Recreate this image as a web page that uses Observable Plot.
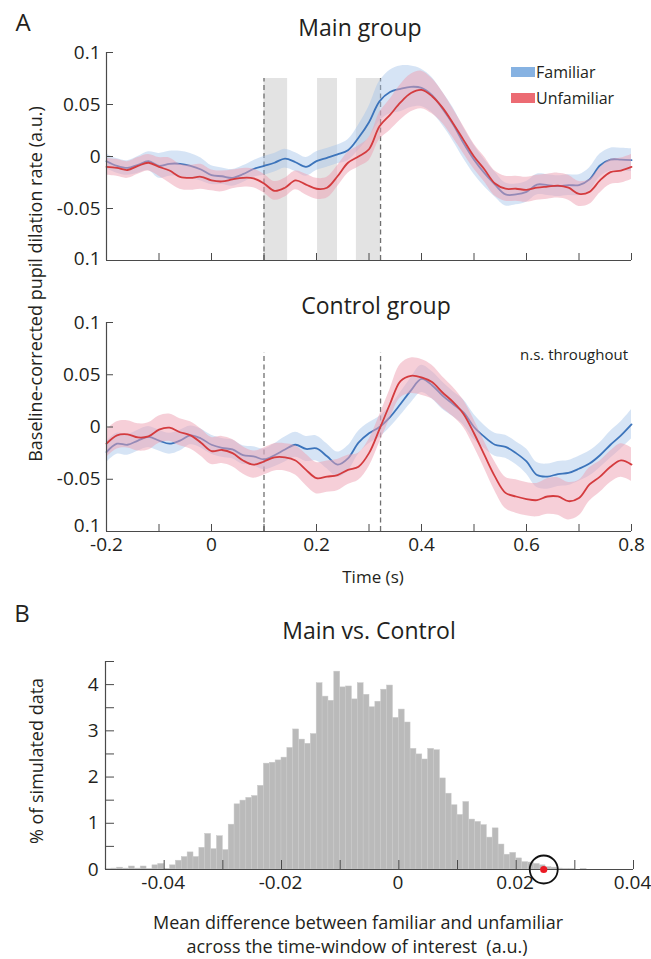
<!DOCTYPE html>
<html>
<head>
<meta charset="utf-8">
<script src="https://cdn.jsdelivr.net/npm/d3@7"></script>
<script src="https://cdn.jsdelivr.net/npm/@observablehq/plot@0.6"></script>
<style>
  html, body { margin: 0; padding: 0; background: #fff; }
  #root { position: relative; width: 651px; height: 959px; overflow: hidden; background: #fff;
          font-family: 'Open Sans', 'Noto Sans', sans-serif; color: #231f20; }
  .pl { position: absolute; left: 0; }
  .t { position: absolute; white-space: pre; line-height: 1; z-index: 5; }
  .c { transform: translate(-50%, -50%); }
  .sw { position: absolute; z-index: 5; }
</style>
</head>
<body>
<div id="root"></div>
<script>
// ---------------- DATA ----------------
const times = [-0.2,-0.18,-0.16,-0.14,-0.12,-0.1,-0.08,-0.06,-0.04,-0.02,0,0.02,0.04,0.06,0.08,0.1,0.12,0.14,0.16,0.18,0.2,0.22,0.24,0.26,0.28,0.3,0.32,0.34,0.36,0.38,0.4,0.42,0.44,0.46,0.48,0.5,0.52,0.54,0.56,0.58,0.6,0.62,0.64,0.66,0.68,0.7,0.72,0.74,0.76,0.78,0.8];

const mainFamiliar = [-0.0045,-0.009,-0.011,-0.008,-0.0045,-0.009,-0.007,-0.007,-0.009,-0.0125,-0.018,-0.019,-0.0205,-0.017,-0.012,-0.009,-0.006,-0.002,-0.0055,-0.010,-0.0045,-0.0013,0.002,0.006,0.018,0.033,0.053,0.062,0.065,0.067,0.066,0.059,0.046,0.031,0.013,-0.003,-0.016,-0.027,-0.0365,-0.0365,-0.034,-0.027,-0.0275,-0.0285,-0.0275,-0.0275,-0.022,-0.0087,-0.003,-0.003,-0.0035];
const mainFamiliarSE = [0.007,0.007,0.007,0.008,0.009,0.012,0.012,0.012,0.012,0.011,0.009,0.008,0.008,0.008,0.008,0.009,0.009,0.009,0.009,0.009,0.009,0.009,0.009,0.010,0.012,0.015,0.019,0.021,0.022,0.020,0.018,0.017,0.016,0.016,0.015,0.014,0.013,0.012,0.011,0.010,0.010,0.010,0.010,0.010,0.010,0.010,0.011,0.011,0.011,0.011,0.011];
const mainUnfamiliar = [-0.010,-0.011,-0.013,-0.009,-0.006,-0.010,-0.0135,-0.0195,-0.0205,-0.0195,-0.023,-0.024,-0.022,-0.0205,-0.021,-0.026,-0.033,-0.030,-0.023,-0.027,-0.031,-0.030,-0.019,-0.006,0.000,0.007,0.029,0.040,0.052,0.061,0.064,0.058,0.047,0.032,0.016,0.000,-0.0125,-0.026,-0.031,-0.031,-0.032,-0.030,-0.029,-0.028,-0.030,-0.036,-0.034,-0.023,-0.015,-0.0135,-0.010];
const mainUnfamiliarSE = [0.008,0.008,0.008,0.008,0.008,0.009,0.012,0.012,0.012,0.012,0.010,0.010,0.009,0.009,0.009,0.009,0.009,0.009,0.009,0.010,0.010,0.010,0.010,0.010,0.010,0.011,0.013,0.015,0.017,0.018,0.018,0.017,0.015,0.014,0.013,0.012,0.012,0.012,0.012,0.012,0.012,0.012,0.012,0.012,0.012,0.012,0.012,0.012,0.012,0.012,0.012];

const controlFamiliar = [-0.024,-0.016,-0.017,-0.013,-0.0095,-0.013,-0.016,-0.013,-0.008,-0.011,-0.017,-0.020,-0.0215,-0.027,-0.028,-0.031,-0.027,-0.0215,-0.017,-0.021,-0.0205,-0.028,-0.036,-0.030,-0.015,-0.006,0.000,0.0095,0.022,0.035,0.046,0.040,0.030,0.022,0.014,0.000,-0.0095,-0.017,-0.019,-0.025,-0.033,-0.046,-0.0475,-0.045,-0.044,-0.040,-0.035,-0.027,-0.017,-0.008,0.0025];
const controlFamiliarSE = [0.010,0.010,0.010,0.010,0.010,0.010,0.010,0.010,0.009,0.009,0.009,0.009,0.009,0.009,0.009,0.010,0.011,0.012,0.012,0.012,0.012,0.012,0.012,0.012,0.011,0.010,0.010,0.010,0.011,0.012,0.013,0.013,0.013,0.012,0.012,0.012,0.011,0.011,0.011,0.011,0.012,0.012,0.012,0.012,0.012,0.012,0.012,0.012,0.013,0.013,0.014];
const controlUnfamiliar = [-0.016,-0.008,-0.007,-0.010,-0.009,-0.0025,-0.0006,-0.005,-0.008,-0.015,-0.023,-0.022,-0.025,-0.032,-0.036,-0.033,-0.029,-0.029,-0.032,-0.041,-0.049,-0.0475,-0.046,-0.041,-0.038,-0.025,-0.002,0.022,0.044,0.049,0.0475,0.043,0.033,0.024,0.0125,-0.006,-0.027,-0.0475,-0.063,-0.0665,-0.069,-0.070,-0.0665,-0.0665,-0.071,-0.068,-0.055,-0.0475,-0.038,-0.032,-0.036];
const controlUnfamiliarSE = [0.013,0.013,0.013,0.013,0.013,0.013,0.013,0.013,0.013,0.013,0.013,0.013,0.013,0.013,0.013,0.013,0.013,0.013,0.014,0.015,0.015,0.015,0.015,0.014,0.013,0.013,0.013,0.014,0.016,0.017,0.017,0.016,0.015,0.014,0.013,0.013,0.013,0.014,0.015,0.016,0.016,0.016,0.017,0.018,0.018,0.017,0.016,0.015,0.015,0.016,0.016];

// significance windows (main group) and window-of-interest markers
const sigStart = [0.1, 0.202, 0.276];
const sigEnd   = [0.145, 0.24, 0.322];
const windowMarks = [0.1, 0.322];

const timeTicksMinor = [-0.2,-0.1,0,0.1,0.2,0.3,0.4,0.5,0.6,0.7,0.8];
const timeTicksMajor = [-0.2,0,0.2,0.4,0.6,0.8];
const timeTickLabels = ["-0.2","0","0.2","0.4","0.6","0.8"];
const rateTicks = [-0.1,-0.05,0,0.05,0.1];
const rateTickLabels = ["0.1","-0.05","0","0.05","0.1"];

// histogram of simulated differences (% per bin), bins of width 0.001 from -0.05
const histStart = -0.05;
const histBinWidth = 0.001;
const histPercent = [0.01,0.02,0.04,0.02,0.065,0.02,0.065,0.01,0.09,0.12,
  0.01,0.09,0.19,0.27,0.37,0.27,0.47,0.77,0.44,0.72,
  0.42,0.97,1.41,1.49,1.55,1.59,1.81,2.29,2.31,2.36,
  2.42,2.63,3.03,2.81,2.72,2.93,4.03,3.74,3.65,4.28,
  3.94,3.96,3.68,4.03,3.78,3.51,3.63,3.89,3.98,3.28,
  3.46,3.18,2.61,2.49,2.38,2.61,2.58,1.97,1.64,1.39,
  1.18,1.46,1.08,1.03,0.96,0.69,0.89,0.54,0.32,0.36,
  0.24,0.16,0.15,0.12,0.09,0.05,0.04,0.02,0.01,0.01,
  0,0.01,0,0,0,0,0,0,0,0];
const observedDiff = 0.0247;
const histXTicksMinor = [-0.05,-0.04,-0.03,-0.02,-0.01,0,0.01,0.02,0.03,0.04];
const histXTicksMajor = [-0.04,-0.02,0,0.02,0.04];
const histXTickLabels = ["-0.04","-0.02","0","0.02","0.04"];
const histYTicksMinor = [0,0.5,1,1.5,2,2.5,3,3.5,4,4.5];
const histYTicksMajor = [0,1,2,3,4];
const histYTickLabels = ["0","1","2","3","4"];

// ---------------- STYLE ----------------
const FONT = "'Open Sans', 'Noto Sans', sans-serif";
const AXIS = "#4a4a4a";
const TEXT = "#231f20";
const BLUE_LINE = "#3c74bb", RED_LINE = "#d43b3e";
const BLUE_BAND = "#a3c4e8", RED_BAND = "#ee9fb1";
const TICK_FONT = 19;

const root = document.getElementById("root");

function rows(v, se) { return times.map((t, i) => ({t, v: v[i], lo: v[i] - se[i], hi: v[i] + se[i]})); }

// inward ticks: the tick vector is drawn outward from an offset point, so shift it inside by its length
function inwardY(ticks, len) {
  return Plot.axisY({ticks, tickSize: len, dx: len, tickFormat: () => "", stroke: AXIS, label: null});
}
function inwardX(ticks, len) {
  return Plot.axisX({ticks, tickSize: len, dy: -len, tickFormat: () => "", stroke: AXIS, label: null});
}

function timeAxes(showLabels) {
  const bottomTick = rateTicks.slice(0, 1), otherTicks = rateTicks.slice(1);
  const fmt = d => rateTickLabels[rateTicks.indexOf(d)];
  const m = [
    Plot.ruleY([-0.1], {stroke: AXIS, strokeWidth: 1.2}),
    Plot.ruleX([-0.2], {stroke: AXIS, strokeWidth: 1.2}),
    inwardY(rateTicks, 7),
    Plot.axisY({ticks: otherTicks, tickSize: 0, tickPadding: 6, fontSize: TICK_FONT, fill: TEXT, label: null, tickFormat: fmt}),
    Plot.axisY({ticks: bottomTick, tickSize: 0, tickPadding: 6, fontSize: TICK_FONT, fill: TEXT, label: null, tickFormat: fmt,
      dy: showLabels ? -6 : -2}),
    inwardX(timeTicksMinor, 7)
  ];
  if (showLabels) {
    m.push(Plot.axisX({ticks: timeTicksMajor, tickSize: 0, tickPadding: 6, fontSize: TICK_FONT, fill: TEXT, label: null,
      tickFormat: d => timeTickLabels[timeTicksMajor.indexOf(d)]}));
  }
  return m;
}

function timePanel({fam, famSE, unf, unfSE, shade, dashTop, height, marginTop, marginBottom, showLabels}) {
  const f = rows(fam, famSE), u = rows(unf, unfSE);
  const marks = [];
  if (shade) {
    const win = sigStart.map((s, i) => ({s, e: sigEnd[i]}));
    marks.push(Plot.rect(win, {x1: "s", x2: "e", y1: -0.1, y2: dashTop, fill: "#e3e3e3"}));
  }
  marks.push(
    Plot.ruleX(windowMarks, {y1: -0.1, y2: dashTop, stroke: "#707070", strokeWidth: 1.3, strokeDasharray: "5,3.5"}),
    Plot.areaY(f, {x: "t", y1: "lo", y2: "hi", fill: BLUE_BAND, fillOpacity: 0.45, curve: "catmull-rom"}),
    Plot.line(f, {x: "t", y: "v", stroke: BLUE_LINE, strokeWidth: 1.8, curve: "catmull-rom"}),
    Plot.areaY(u, {x: "t", y1: "lo", y2: "hi", fill: RED_BAND, fillOpacity: 0.5, curve: "catmull-rom"}),
    Plot.line(u, {x: "t", y: "v", stroke: RED_LINE, strokeWidth: 1.8, curve: "catmull-rom"}),
    ...timeAxes(showLabels)
  );
  return Plot.plot({
    width: 651, height, marginLeft: 106, marginRight: 20, marginTop, marginBottom,
    x: {domain: [-0.2, 0.8]},
    y: {domain: [-0.1, 0.1]},
    style: {fontFamily: FONT, fontSize: TICK_FONT + "px", color: TEXT, background: "transparent", overflow: "visible"},
    marks
  });
}

const mainPlot = timePanel({fam: mainFamiliar, famSE: mainFamiliarSE, unf: mainUnfamiliar, unfSE: mainUnfamiliarSE,
  shade: true, dashTop: 0.075, height: 280, marginTop: 52, marginBottom: 20, showLabels: false});
mainPlot.classList.add("pl"); mainPlot.style.top = "0px";
root.appendChild(mainPlot);

const controlPlot = timePanel({fam: controlFamiliar, famSE: controlFamiliarSE, unf: controlUnfamiliar, unfSE: controlUnfamiliarSE,
  shade: false, dashTop: 0.071, height: 300, marginTop: 42, marginBottom: 49, showLabels: true});
controlPlot.classList.add("pl"); controlPlot.style.top = "280px";
root.appendChild(controlPlot);

// histogram
const bins = histPercent.map((p, i) => ({x1: histStart + i * histBinWidth, x2: histStart + (i + 1) * histBinWidth, p}));
const histPlot = Plot.plot({
  width: 651, height: 260, marginLeft: 105, marginRight: 18, marginTop: 21, marginBottom: 31,
  x: {domain: [-0.05, 0.04]},
  y: {domain: [0, 4.5]},
  style: {fontFamily: FONT, fontSize: TICK_FONT + "px", color: TEXT, background: "transparent", overflow: "visible"},
  marks: [
    Plot.rectY(bins, {x1: "x1", x2: "x2", y: "p", fill: "#bababa", stroke: "#c9c9c9", strokeWidth: 0.5}),
    Plot.ruleY([0], {stroke: AXIS, strokeWidth: 1.2}),
    Plot.ruleX([-0.05], {stroke: AXIS, strokeWidth: 1.2}),
    inwardX(histXTicksMinor, 9),
    Plot.axisX({ticks: histXTicksMajor, tickSize: 0, tickPadding: 6, fontSize: TICK_FONT, fill: TEXT, label: null, dx: -1,
      tickFormat: d => histXTickLabels[histXTicksMajor.indexOf(d)]}),
    inwardY(histYTicksMinor, 9),
    Plot.axisY({ticks: histYTicksMajor, tickSize: 0, tickPadding: 7, fontSize: TICK_FONT, fill: TEXT, label: null,
      tickFormat: d => histYTickLabels[histYTicksMajor.indexOf(d)]}),
    Plot.dot([observedDiff], {x: d => d, y: 0, r: 14, stroke: "#111", strokeWidth: 1.8, fill: "none"}),
    Plot.dot([observedDiff], {x: d => d, y: 0, r: 3.6, fill: "#ea1a24", stroke: "none"})
  ]
});
histPlot.classList.add("pl"); histPlot.style.top = "640px";
root.appendChild(histPlot);

// ---------------- TEXT ----------------
function txt(s, x, y, size, extra = {}) {
  const d = document.createElement("div");
  d.className = "t c";
  d.textContent = s;
  d.style.left = x + "px"; d.style.top = y + "px"; d.style.fontSize = size + "px";
  if (extra.rotate) d.style.transform = "translate(-50%, -50%) rotate(-90deg)";
  if (extra.right) { d.className = "t"; d.style.left = ""; d.style.right = (651 - x) + "px"; d.style.transform = "translateY(-50%)"; }
  if (extra.left) { d.className = "t"; d.style.transform = "translateY(-50%)"; }
  root.appendChild(d);
}
txt("A", 23, 22, 24);
txt("Main group", 360, 27, 23);
txt("Control group", 376, 305, 23);
txt("n.s. throughout", 628, 354, 15, {right: true});
txt("Time (s)", 373, 576, 17);
txt("Baseline-corrected pupil dilation rate (a.u.)", 35, 284, 18, {rotate: true});
txt("B", 22, 613, 24);
txt("Main vs. Control", 369, 630, 23);
txt("% of simulated data", 36, 761, 18, {rotate: true});
txt("Mean difference between familiar and unfamiliar", 358, 922, 18);
txt("across the time-window of interest  (a.u.)", 357, 946, 18);

// legend
function swatch(color, y) {
  const s = document.createElement("div");
  s.className = "sw";
  s.style.left = "511px"; s.style.top = (y - 5) + "px"; s.style.width = "24px"; s.style.height = "10px";
  s.style.background = color;
  root.appendChild(s);
}
swatch("#86b2e2", 72);
swatch("#ec6b73", 98);
txt("Familiar", 536, 72, 16, {left: true});
txt("Unfamiliar", 536, 98, 16, {left: true});
</script>
</body>
</html>
